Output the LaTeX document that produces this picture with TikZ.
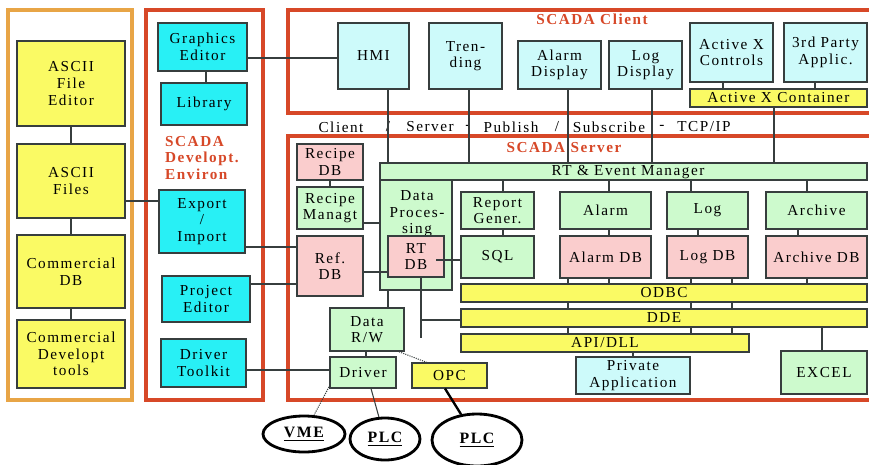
\documentclass[tikz,border=0pt]{standalone}
\usepackage{fontspec}
\setmainfont{Liberation Serif}[LetterSpace=10]
\usetikzlibrary{shapes.geometric}
\definecolor{cyel}{RGB}{250,250,100}
\definecolor{ccyan}{RGB}{40,240,245}
\definecolor{clcyan}{RGB}{205,250,250}
\definecolor{cgreen}{RGB}{205,250,205}
\definecolor{cpink}{RGB}{250,205,205}
\definecolor{cline}{RGB}{55,62,62}
\definecolor{cred}{RGB}{215,72,40}
\definecolor{corange}{RGB}{232,165,70}
\newcommand\fs{\fontsize{13}{14.2}\selectfont}
\tikzset{
  every node/.style={font=\fs},
  bxs/.style={draw=cline, line width=0.9pt, align=center, inner sep=0pt},
  yel/.style={bxs, fill=cyel},
  cyn/.style={bxs, fill=ccyan},
  lcy/.style={bxs, fill=clcyan},
  grn/.style={bxs, fill=cgreen},
  pnk/.style={bxs, fill=cpink},
  conn/.style={draw=cline, line width=0.9pt},
  dconn/.style={draw=cline, line width=0.9pt, densely dotted},
  frameR/.style={draw=cred, line width=2.6pt},
  frameO/.style={draw=corange, line width=2.6pt},
  ttl/.style={text=cred, font=\fs\bfseries, inner sep=0pt},
  ell/.style={ellipse, draw=black, line width=2.4pt, inner sep=0pt, font=\fontsize{13.5}{15}\selectfont\bfseries},
  btxt/.style={inner sep=0pt}
}
\newcommand\bx[7]{\node[#6, minimum width={(#4-#2)*0.03cm}, minimum height={(#5-#3)*0.03cm}] (#1) at ({(#2+#4)/2},{(#3+#5)/2}) {#7};}
\begin{document}
\begin{tikzpicture}[x=0.03cm,y=-0.03cm]
\useasboundingbox (0,0) rectangle (869,464);
\fill[white] (0,0) rectangle (869,464);
% frames
\draw[frameO] (8,10) rectangle (132,400);
\draw[frameR] (146,10) rectangle (263,400);
\draw[frameR] (869,10) -- (288,10) -- (288,113) -- (869,113);
\draw[frameR] (869,136) -- (288,136) -- (288,400) -- (869,400);
% left column
\bx{afe}{17}{41}{125}{126}{yel}{ASCII\\File\\Editor}
\bx{af}{17}{144}{125}{218}{yel}{ASCII\\Files}
\bx{cdb}{17}{235}{125}{308}{yel}{Commercial\\DB}
\bx{cdt}{17}{320}{125}{388}{yel}{Commercial\\Developt\\tools}
% develop column
\bx{ge}{158}{23}{247}{71}{cyn}{Graphics\\Editor}
\bx{lib}{161}{83}{247}{125}{cyn}{Library}
\node[ttl, align=left, anchor=west] (devt) at (165,158) {SCADA\\Developt.\\Environ};
\bx{ei}{159}{190}{245}{253}{cyn}{Export\\/\\Import}
\bx{pe}{162}{276}{250}{322}{cyn}{Project\\Editor}
\bx{dt}{161}{339}{246}{387}{cyn}{Driver\\Toolkit}
% client
\node[ttl] (ctitle) at (592,19) {SCADA Client};
\bx{hmi}{338}{23}{409}{89}{lcy}{HMI}
\bx{trend}{429}{23}{502}{89}{lcy}{Tren-\\ding}
\bx{ad}{518}{41}{601}{89}{lcy}{Alarm\\Display}
\bx{ld}{609}{41}{682}{89}{lcy}{Log\\Display}
\bx{axc}{690}{23}{773}{82}{lcy}{Active X\\Controls}
\bx{tpa}{784}{23}{867}{82}{lcy}{3rd Party\\Applic.}
\bx{axk}{690}{89}{867}{107}{yel}{Active X Container}
% band text
\node[btxt] (b1) at (341,127) {Client};
\node[btxt] (b2) at (388,127) {/};
\node[btxt] (b3) at (430,127) {Server};
\node[btxt] (b4) at (468,127) {-};
\node[btxt] (b5) at (511,127) {Publish};
\node[btxt] (b6) at (557,127) {/};
\node[btxt] (b7) at (609,127) {Subscribe};
\node[btxt] (b8) at (662,127) {-};
\node[btxt] (b9) at (704,127) {TCP/IP};
% server
\node[ttl] (stitle) at (564,148) {SCADA Server};
\bx{rdb}{297}{144}{363}{180}{pnk}{Recipe\\DB}
\bx{rm}{297}{187}{363}{229}{grn}{Recipe\\Managt}
\bx{ref}{297}{236}{363}{296}{pnk}{Ref.\\DB}
\bx{rtem}{380}{163}{867}{180}{grn}{}
\node[btxt] (rtemt) at (628,172) {RT \& Event Manager};
\bx{dp}{380}{180}{452}{290}{grn}{}
\node[btxt, align=center] (dpt) at (417,214) {Data\\Proces-\\sing};
\bx{rtdb}{388}{236}{444}{277}{pnk}{RT\\DB}
\bx{rg}{461}{192}{534}{229}{grn}{Report\\Gener.}
\bx{sql}{461}{236}{534}{278}{grn}{SQL}
\bx{al}{560}{192}{651}{229}{grn}{Alarm}
\bx{aldb}{560}{236}{651}{278}{pnk}{Alarm DB}
\bx{lg}{667}{192}{748}{229}{grn}{Log}
\bx{lgdb}{667}{236}{748}{278}{pnk}{Log DB}
\bx{ar}{766}{192}{867}{229}{grn}{Archive}
\bx{ardb}{766}{236}{867}{278}{pnk}{Archive DB}
\bx{odbc}{461}{284}{867}{302}{yel}{ODBC}
\bx{dde}{461}{309}{867}{327}{yel}{DDE}
\bx{api}{461}{334}{749}{352}{yel}{API/DLL}
\bx{pa}{576}{357}{690}{394}{lcy}{Private\\Application}
\bx{ex}{781}{351}{867}{394}{grn}{EXCEL}
\bx{drw}{330}{308}{404}{351}{grn}{Data\\R/W}
\bx{drv}{330}{357}{396}{388}{grn}{Driver}
\bx{opc}{412}{363}{487}{388}{yel}{OPC}
% devices
\node[ell, minimum width=2.46cm, minimum height=1.08cm] (vme) at (304,434) {\underline{VME}};
\node[ell, minimum width=2.1cm, minimum height=1.26cm] (plc1) at (385,439) {\underline{PLC}};
\node[ell, minimum width=2.7cm, minimum height=1.56cm] (plc2) at (477,440) {\underline{PLC}};
% connectors left
\draw[conn] (afe) -- (af);
\draw[conn] (af) -- (cdb);
\draw[conn] (cdb) -- (cdt);
\draw[conn] (af.east |- 0,201) -- (ei.west |- 0,201);
\draw[conn] (206,0 |- ge.south) -- (206,0 |- lib.north);
\draw[conn] (ge.east |- 0,58) -- (hmi.west |- 0,58);
\draw[conn] (ei.east |- 0,247) -- (ref.west |- 0,247);
\draw[conn] (pe.east |- 0,284) -- (ref.west |- 0,284);
\draw[conn] (dt.east |- 0,370) -- (drv.west |- 0,370);
% client to server
\draw[conn] (388,0 |- hmi.south) -- (388,0 |- rtem.north);
\draw[conn] (469,0 |- trend.south) -- (469,0 |- rtem.north);
\draw[conn] (568,0 |- ad.south) -- (568,0 |- rtem.north);
\draw[conn] (652,0 |- ld.south) -- (652,0 |- rtem.north);
\draw[conn] (723,0 |- axc.south) -- (723,0 |- axk.north);
\draw[conn] (815,0 |- tpa.south) -- (815,0 |- axk.north);
\draw[conn] (774,0 |- axk.south) -- (774,0 |- rtem.north);
% server internals
\draw[conn] (330,0 |- rdb.south) -- (330,0 |- rm.north);
\draw[conn] (rm.east |- 0,223) -- (dp.west |- 0,223);
\draw[conn] (ref.east |- 0,272) -- (rtdb.west |- 0,272);
\draw[conn] (436,260) -- (sql.west |- 0,260);
\draw[conn] (503,0 |- rtem.south) -- (503,0 |- rg.north);
\draw[conn] (503,0 |- rg.south) -- (503,0 |- sql.north);
\draw[conn] (609,0 |- rtem.south) -- (609,0 |- al.north);
\draw[conn] (609,0 |- al.south) -- (609,0 |- aldb.north);
\draw[conn] (568,0 |- aldb.south) -- (568,0 |- odbc.north);
\draw[conn] (609,0 |- aldb.south) -- (609,0 |- odbc.north);
\draw[conn] (691,0 |- rtem.south) -- (691,0 |- lg.north);
\draw[conn] (698,0 |- lg.south) -- (698,0 |- lgdb.north);
\draw[conn] (691,0 |- lgdb.south) -- (691,0 |- odbc.north);
\draw[conn] (732,0 |- lgdb.south) -- (732,0 |- odbc.north);
\draw[conn] (807,0 |- rtem.south) -- (807,0 |- ar.north);
\draw[conn] (798,0 |- ar.south) -- (798,0 |- ardb.north);
\draw[conn] (807,0 |- ardb.south) -- (807,0 |- odbc.north);
\foreach \xx in {568,691,732} {
  \draw[conn] (\xx,0 |- odbc.south) -- (\xx,0 |- dde.north);
  \draw[conn] (\xx,0 |- dde.south) -- (\xx,0 |- api.north);
}
\draw[conn] (822,0 |- dde.south) -- (822,0 |- ex.north);
\draw[conn] (633,0 |- api.south) -- (633,0 |- pa.north);
\coordinate (rtend) at (421,338);
\draw[conn] (421,0 |- rtdb.south) -- (rtend);
\draw[conn] (421,320) -- (dde.west |- 0,320);
\draw[conn] (388,0 |- dp.south) -- (388,0 |- drw.north);
\draw[conn] (366,0 |- drw.south) -- (366,0 |- drv.north);
\draw[dconn] (397,351) -- (427,0 |- opc.north);
\draw[dconn] (330,385) -- (vme);
\draw[conn] (371,0 |- drv.south) -- (plc1);
\draw[draw=black, line width=2pt] (445,0 |- opc.south) -- (plc2);
\end{tikzpicture}
\end{document}
